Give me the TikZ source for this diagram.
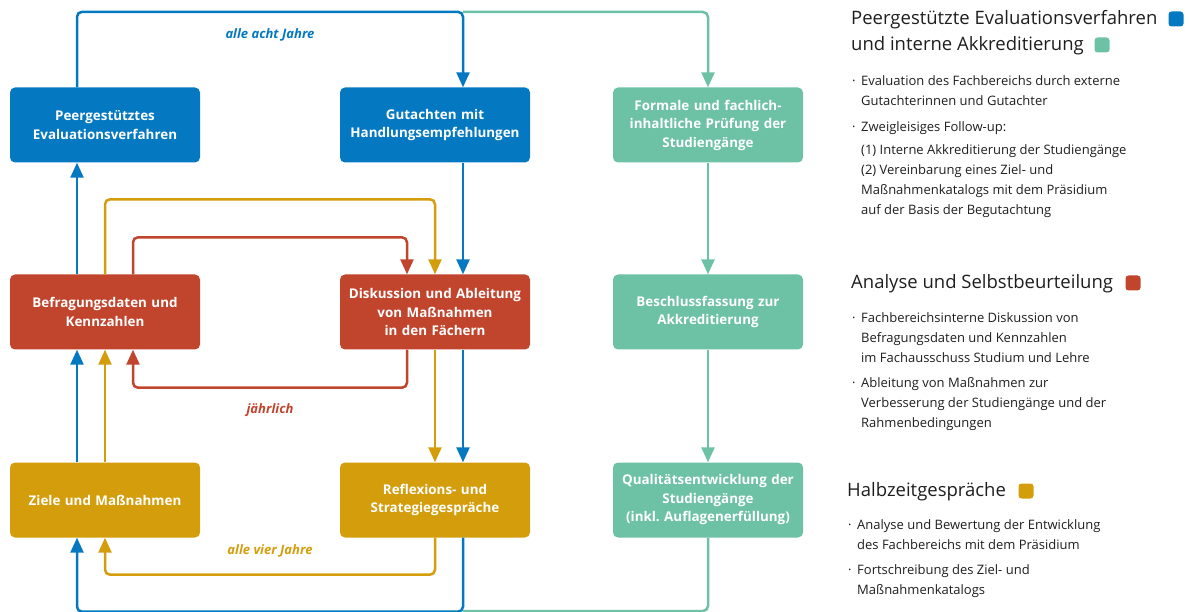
\documentclass[tikz,border=0pt]{standalone}
\usepackage{fontspec}
\setmainfont{Open Sans}
\usetikzlibrary{arrows.meta}
\frenchspacing
\definecolor{cblue}{HTML}{0479C1}
\definecolor{cgreen}{HTML}{6DC1A4}
\definecolor{cred}{HTML}{C1442D}
\definecolor{cgold}{HTML}{D39D0C}
\definecolor{ctext}{HTML}{1E1E1E}
\tikzset{
  box/.style={rounded corners=5pt, minimum width=190pt, minimum height=75pt, text=white,
    font=\bfseries\fontsize{13.4}{18.5}\selectfont, align=center, inner sep=0pt, text width=186pt},
  conn/.style={line width=2.5pt, rounded corners=5pt, -{Triangle[length=15pt,width=13pt]}},
  plain/.style={line width=2.5pt, rounded corners=5pt},
  lab/.style={font=\bfseries\itshape\fontsize{13}{15}\selectfont},
  head/.style={anchor=west, inner sep=0pt, text=ctext, font=\fontsize{18.5}{22}\selectfont},
  sq/.style={rounded corners=3pt, minimum size=15pt, inner sep=0pt},
  para/.style={anchor=north west, inner sep=0pt, text=ctext, align=left,
    font=\fontsize{13}{20}\selectfont},
  dotn/.style={anchor=north west, inner sep=0pt, text=ctext, font=\fontsize{13}{20}\selectfont}
}
\begin{document}
\begin{tikzpicture}[x=1pt,y=-1pt]
\useasboundingbox (0,0) rectangle (1189,612);
% boxes
\node[box, fill=cblue] (peer) at (105,125) {Peergestütztes\\Evaluationsverfahren};
\node[box, fill=cblue] (gut) at (435,125) {Gutachten mit\\Handlungsempfehlungen};
\node[box, fill=cgreen] (form) at (708,125) {Formale und fachlich-\\inhaltliche Prüfung der\\Studiengänge};
\node[box, fill=cred] (befr) at (105,312) {Befragungsdaten und\\Kennzahlen};
\node[box, fill=cred] (disk) at (435,312) {Diskussion und Ableitung\\von Maßnahmen\\in den Fächern};
\node[box, fill=cgreen] (besch) at (708,312) {Beschlussfassung zur\\Akkreditierung};
\node[box, fill=cgold] (ziele) at (105,500) {Ziele und Maßnahmen};
\node[box, fill=cgold] (refl) at (435,500) {Reflexions- und\\Strategiegespräche};
\node[box, fill=cgreen] (qual) at (708,500) {Qualitätsentwicklung der\\Studiengänge\\(inkl. Auflagenerfüllung)};
% coordinates for junctions
\coordinate (gtop) at (463,12);
\coordinate (gbot) at (463,611);
% green connectors
\draw[conn, cgreen] (gtop) -| (form.north);
\draw[conn, cgreen] (form.south) -- (besch.north);
\draw[conn, cgreen] (besch.south) -- (qual.north);
\draw[plain, cgreen] (qual.south) |- (gbot);
% gold connectors
\draw[conn, cgold] (befr.north) -- ++(0,-75) -| (disk.north);
\draw[conn, cgold] (disk.south) -- (refl.north);
\draw[conn, cgold] (refl.south) -- ++(0,37) -| (ziele.south);
\draw[conn, cgold] (ziele.north) -- (befr.south);
% red connectors
\draw[conn, cred] ([xshift=28pt]befr.north) -- ++(0,-37) -| ([xshift=-28pt]disk.north);
\draw[conn, cred] ([xshift=-28pt]disk.south) -- ++(0,38) -| ([xshift=28pt]befr.south);
% blue connectors
\draw[conn, cblue] ([xshift=-28pt]peer.north) -- ++(0,-75.5) -| ([xshift=28pt]gut.north);
\draw[conn, cblue] ([xshift=28pt]gut.south) -- ([xshift=28pt]disk.north);
\draw[conn, cblue] ([xshift=28pt]disk.south) -- ([xshift=28pt]refl.north);
\draw[conn, cblue] ([xshift=28pt]refl.south) -- ++(0,74) -| ([xshift=-28pt]ziele.south);
\draw[conn, cblue] ([xshift=-28pt]ziele.north) -- ([xshift=-28pt]befr.south);
\draw[conn, cblue] ([xshift=-28pt]befr.north) -- ([xshift=-28pt]peer.south);
% labels
\node[lab, text=cblue] (l1) at (270,35) {alle acht Jahre};
\node[lab, text=cred] (l2) at (270,410) {jährlich};
\node[lab, text=cgold] (l3) at (270,551) {alle vier Jahre};
% right panel
\node[head] (h1a) at (851,20) {Peergestützte Evaluationsverfahren};
\node[sq, fill=cblue] (s1) at (1176,19) {};
\node[head] (h1b) at (851,46) {und interne Akkreditierung};
\node[sq, fill=cgreen] (s2) at (1102,45) {};
\node[dotn] (d1) at (852,71) {\strut·};
\node[para] (p1) at (861,71) {\strut Evaluation des Fachbereichs durch externe\\Gutachterinnen und Gutachter};
\node[dotn] (d2) at (852,117) {\strut·};
\node[para] (p2) at (861,117) {\strut Zweigleisiges Follow-up:};
\node[para] (p3) at (861,140) {\strut (1) Interne Akkreditierung der Studiengänge\\(2) Vereinbarung eines Ziel- und\\Maßnahmenkatalogs mit dem Präsidium\\auf der Basis der Begutachtung};
\node[head] (h2) at (851,284) {Analyse und Selbstbeurteilung};
\node[sq, fill=cred] (s3) at (1133,283) {};
\node[dotn] (d3) at (852,308) {\strut·};
\node[para] (p4) at (861,308) {\strut Fachbereichsinterne Diskussion von\\Befragungsdaten und Kennzahlen\\im Fachausschuss Studium und Lehre};
\node[dotn] (d4) at (852,373) {\strut·};
\node[para] (p5) at (861,373) {\strut Ableitung von Maßnahmen zur\\Verbesserung der Studiengänge und der\\Rahmenbedingungen};
\node[head] (h3) at (847,492) {Halbzeitgespräche};
\node[sq, fill=cgold] (s4) at (1026,491) {};
\node[dotn] (d5) at (848,515) {\strut·};
\node[para] (p6) at (857,515) {\strut Analyse und Bewertung der Entwicklung\\des Fachbereichs mit dem Präsidium};
\node[dotn] (d6) at (848,560) {\strut·};
\node[para] (p7) at (857,560) {\strut Fortschreibung des Ziel- und\\Maßnahmenkatalogs};
\end{tikzpicture}
\end{document}
